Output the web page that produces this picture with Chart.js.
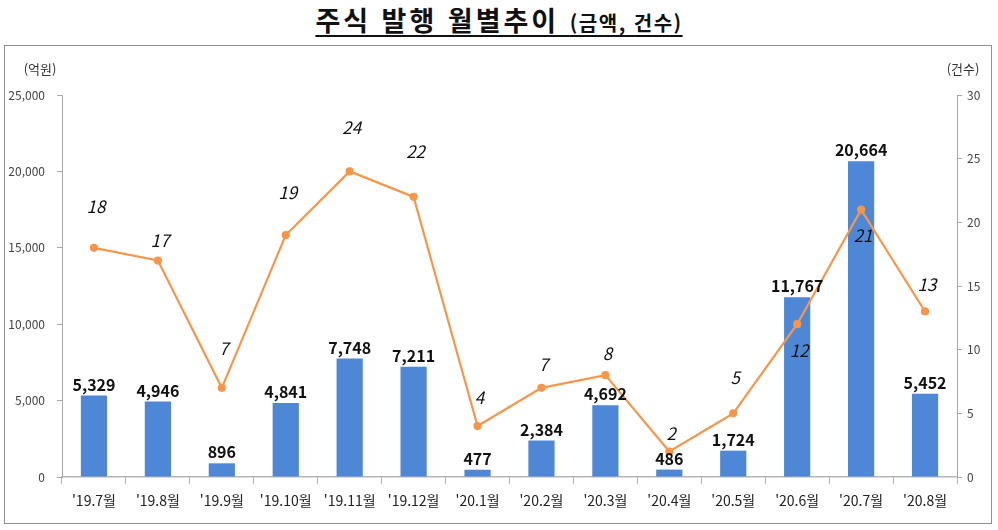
<!DOCTYPE html>
<html lang="ko">
<head>
<meta charset="utf-8">
<title>주식 발행 월별추이</title>
<script src="https://cdn.jsdelivr.net/npm/chart.js@4.4.1/dist/chart.umd.min.js"></script>
<style>
    html, body { margin: 0; padding: 0; background: #fff; }
    body { width: 998px; height: 530px; position: relative; overflow: hidden; font-family: "Noto Sans CJK KR", sans-serif; }
    #titulo {
        position: absolute; top: 0; left: 0; width: 998px; text-align: center;
        font-weight: bold; color: #111; white-space: nowrap;
    }
    #titulo span.linea { text-decoration: underline; text-decoration-thickness: 2px; text-underline-offset: 4px; }
    #titulo .principal { font-size: 27px; letter-spacing: 3px; }
    #titulo .sub { font-size: 20px; letter-spacing: 1.5px; }
    #marco { position: absolute; left: 4px; top: 45px; width: 986px; height: 477px; border: 1.5px solid #8f8f8f; }
    #grafica { position: absolute; left: 0; top: 0; }
</style>
</head>
<body>
<div id="titulo"><span class="linea"><span class="principal">주식 발행 월별추이 </span><span class="sub">(금액, 건수)</span></span></div>
<div id="marco"></div>
<canvas id="grafica" width="998" height="530"></canvas>

<script>
// datos
const meses = ["'19.7월", "'19.8월", "'19.9월", "'19.10월", "'19.11월", "'19.12월", "'20.1월",
    "'20.2월", "'20.3월", "'20.4월", "'20.5월", "'20.6월", "'20.7월", "'20.8월"];
const montos = [5329, 4946, 896, 4841, 7748, 7211, 477, 2384, 4692, 486, 1724, 11767, 20664, 5452];
const cantidades = [18, 17, 7, 19, 24, 22, 4, 7, 8, 2, 5, 12, 21, 13];
const ticksMontos = [0, 5000, 10000, 15000, 20000, 25000];
const ticksCantidades = [0, 5, 10, 15, 20, 25, 30];

const colorBarra = '#4f87d7';
const colorLinea = '#f7964a';

// desplazamiento vertical de las etiquetas de la linea (px, como en el original)
const desplazamientoEtiquetas = [-41, -20, -39, -43, -44, -45, -29, -23, -22, -18, -36, 26, 26, -27];

function formatearNumero(valor) {
    return valor.toLocaleString('en-US');
}

const pluginEtiquetas = {
    id: 'etiquetas',
    afterDatasetsDraw(chart) {
        const ctx = chart.ctx;
        const metaLinea = chart.getDatasetMeta(0);
        const metaBarras = chart.getDatasetMeta(1);

        ctx.save();
        ctx.fillStyle = '#111';
        ctx.textAlign = 'center';

        ctx.font = 'bold 16px "Noto Sans CJK KR", sans-serif';
        ctx.textBaseline = 'bottom';
        metaBarras.data.forEach((barra, indice) => {
            ctx.fillText(formatearNumero(montos[indice]), barra.x, barra.y - 3);
        });

        ctx.font = 'italic 17px "Noto Sans CJK KR", sans-serif';
        ctx.textBaseline = 'middle';
        metaLinea.data.forEach((punto, indice) => {
            ctx.fillText(String(cantidades[indice]), punto.x + 2, punto.y + desplazamientoEtiquetas[indice]);
        });

        // unidades de los ejes
        ctx.font = '13px "Noto Sans CJK KR", sans-serif';
        ctx.fillStyle = '#333';
        ctx.fillText('(억원)', 40, 69);
        ctx.fillText('(건수)', 963, 69);
        ctx.restore();
    }
};

document.addEventListener('DOMContentLoaded', () => {
    const lienzo = document.getElementById('grafica');

    const configuracion = {
        type: 'bar',
        data: {
            labels: meses,
            datasets: [{
                type: 'line',
                label: '건수',
                data: cantidades,
                yAxisID: 'yDer',
                borderColor: colorLinea,
                backgroundColor: colorLinea,
                pointBackgroundColor: colorLinea,
                pointBorderColor: colorLinea,
                pointRadius: 3,
                borderWidth: 2.2,
                tension: 0,
                fill: false,
                order: 0
            }, {
                type: 'bar',
                label: '금액',
                data: montos,
                yAxisID: 'yIzq',
                backgroundColor: colorBarra,
                borderWidth: 0,
                categoryPercentage: 1,
                barPercentage: 0.41,
                order: 1
            }]
        },
        options: {
            responsive: false,
            animation: false,
            devicePixelRatio: 1,
            layout: {
                padding: { top: 95, left: 0, right: 0, bottom: 0 }
            },
            plugins: {
                legend: { display: false },
                tooltip: { enabled: false }
            },
            scales: {
                x: {
                    grid: { display: true, drawOnChartArea: false, drawTicks: true, tickLength: 7, color: '#b5b5b5', offset: true },
                    border: { display: true, color: '#b5b5b5', width: 1.5 },
                    ticks: {
                        color: '#222',
                        padding: 8,
                        maxRotation: 0,
                        autoSkip: false,
                        font: { family: '"Noto Sans CJK KR", sans-serif', size: 14 }
                    },
                    afterFit(escala) { escala.height = 53; }
                },
                yIzq: {
                    position: 'left',
                    min: 0,
                    max: 25000,
                    afterBuildTicks(escala) { escala.ticks = ticksMontos.map(v => ({ value: v })); },
                    grid: { display: true, drawOnChartArea: false, drawTicks: true, tickLength: 5, color: '#a6a6a6' },
                    border: { display: true, color: '#a6a6a6' },
                    ticks: {
                        color: '#444',
                        padding: 12,
                        font: { family: '"Noto Sans CJK KR", sans-serif', size: 12 },
                        callback: (valor) => formatearNumero(valor)
                    },
                    afterFit(escala) { escala.width = 62; }
                },
                yDer: {
                    position: 'right',
                    min: 0,
                    max: 30,
                    afterBuildTicks(escala) { escala.ticks = ticksCantidades.map(v => ({ value: v })); },
                    grid: { display: true, drawOnChartArea: false, drawTicks: true, tickLength: 5, color: '#a6a6a6' },
                    border: { display: true, color: '#a6a6a6' },
                    ticks: {
                        color: '#444',
                        padding: 5,
                        font: { family: '"Noto Sans CJK KR", sans-serif', size: 12 }
                    },
                    afterFit(escala) { escala.width = 41; }
                }
            }
        },
        plugins: [pluginEtiquetas]
    };

    new Chart(lienzo, configuracion);
});
</script>
</body>
</html>
